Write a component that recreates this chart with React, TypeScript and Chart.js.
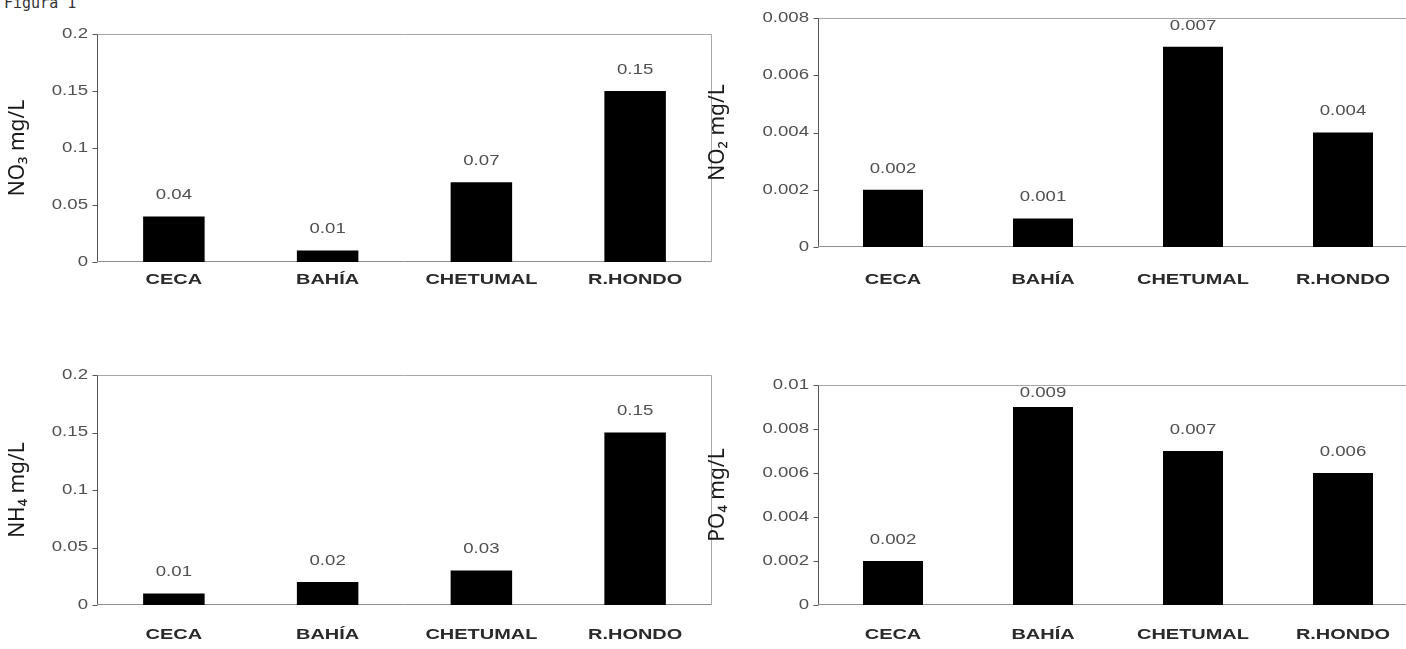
import React, { useEffect, useRef } from 'react';
import { Chart, registerables } from 'chart.js';

Chart.register(...registerables);

// ---- data ----
const categories = ['CECA', 'BAHÍA', 'CHETUMAL', 'R.HONDO'];
const no3Values = [0.04, 0.01, 0.07, 0.15];
const no2Values = [0.002, 0.001, 0.007, 0.004];
const nh4Values = [0.01, 0.02, 0.03, 0.15];
const po4Values = [0.002, 0.009, 0.007, 0.006];
const no3Ticks = ['0', '0.05', '0.1', '0.15', '0.2'];
const no2Ticks = ['0', '0.002', '0.004', '0.006', '0.008'];
const nh4Ticks = ['0', '0.05', '0.1', '0.15', '0.2'];
const po4Ticks = ['0', '0.002', '0.004', '0.006', '0.008', '0.01'];
const axisTitles = ['NO₃ mg/L', 'NO₂ mg/L', 'NH₄ mg/L', 'PO₄ mg/L'];
const figureTitle = 'Figura 1';

// ---- layout (not data) ----
type Panel = {
  values: number[];
  ticks: string[];
  title: string;
  left: number;
  top: number;
  width: number;
  height: number;
  axisW: number;
  axisH: number;
  padTop: number;
  padRight: number;
  labelGap: number;
};

const panels: Panel[] = [
  { values: no3Values, ticks: no3Ticks, title: axisTitles[0], left: 0, top: 0, width: 714, height: 300, axisW: 97, axisH: 38, padTop: 34, padRight: 2, labelGap: 18 },
  { values: no2Values, ticks: no2Ticks, title: axisTitles[1], left: 700, top: 0, width: 722, height: 300, axisW: 118, axisH: 53, padTop: 18, padRight: 4, labelGap: 33 },
  { values: nh4Values, ticks: nh4Ticks, title: axisTitles[2], left: 0, top: 340, width: 714, height: 300, axisW: 97, axisH: 35, padTop: 35, padRight: 2, labelGap: 30 },
  { values: po4Values, ticks: po4Ticks, title: axisTitles[3], left: 700, top: 340, width: 722, height: 300, axisW: 118, axisH: 35, padTop: 45, padRight: 4, labelGap: 30 },
];

const SX = 1.33; // horizontal stretch of the scanned lettering

function drawStretched(ctx: CanvasRenderingContext2D, text: string, x: number, y: number, align: CanvasTextAlign) {
  ctx.save();
  ctx.translate(x, y);
  ctx.scale(SX, 1);
  ctx.textAlign = align;
  ctx.textBaseline = 'middle';
  ctx.fillText(text, 0, 0);
  ctx.restore();
}

function makePlugin(p: Panel) {
  return {
    id: 'panelDecor',
    beforeDatasetsDraw(chart: any) {
      const ctx: CanvasRenderingContext2D = chart.ctx;
      const a = chart.chartArea;
      const yScale = chart.scales.y;
      const xScale = chart.scales.x;
      const L = Math.round(a.left) + 0.5;
      const R = Math.round(a.right) - 0.5;
      const T = Math.round(a.top) + 0.5;
      const B = Math.round(a.bottom) - 0.5;
      ctx.save();
      ctx.lineWidth = 1;
      // top and right frame
      ctx.strokeStyle = '#a8a8a8';
      ctx.beginPath();
      ctx.moveTo(L, T);
      ctx.lineTo(R, T);
      ctx.lineTo(R, B);
      ctx.stroke();
      // bottom axis
      ctx.strokeStyle = '#909090';
      ctx.beginPath();
      ctx.moveTo(L, B);
      ctx.lineTo(R, B);
      ctx.stroke();
      // left axis + ticks
      ctx.strokeStyle = '#555';
      ctx.beginPath();
      ctx.moveTo(L, T);
      ctx.lineTo(L, B);
      p.ticks.forEach((t) => {
        const y = Math.round(yScale.getPixelForValue(parseFloat(t))) + 0.5;
        ctx.moveTo(L - 5, y);
        ctx.lineTo(L, y);
      });
      ctx.stroke();
      // y tick labels
      ctx.fillStyle = '#505050';
      ctx.font = '14px "Liberation Sans", Arial, sans-serif';
      p.ticks.forEach((t) => {
        const y = yScale.getPixelForValue(parseFloat(t));
        drawStretched(ctx, t, a.left - 9, y, 'right');
      });
      // category labels
      ctx.fillStyle = '#2a2a2a';
      ctx.font = 'bold 15px "Liberation Sans", Arial, sans-serif';
      categories.forEach((c, i) => {
        const x = xScale.getPixelForValue(i);
        drawStretched(ctx, c, x, a.bottom + p.labelGap, 'center');
      });
      ctx.restore();
    },
    afterDatasetsDraw(chart: any) {
      const ctx: CanvasRenderingContext2D = chart.ctx;
      const a = chart.chartArea;
      const meta = chart.getDatasetMeta(0);
      ctx.save();
      ctx.fillStyle = '#505050';
      ctx.font = '14px "Liberation Sans", Arial, sans-serif';
      meta.data.forEach((bar: any, i: number) => {
        const y = Math.max(bar.y - 21, a.top + 8);
        drawStretched(ctx, String(p.values[i]), bar.x, y, 'center');
      });
      ctx.restore();
    },
  };
}

function PanelChart({ p }: { p: Panel }) {
  const ref = useRef<HTMLCanvasElement | null>(null);
  useEffect(() => {
    if (!ref.current) return;
    const yMax = parseFloat(p.ticks[p.ticks.length - 1]);
    const chart = new Chart(ref.current, {
      type: 'bar',
      data: {
        labels: categories,
        datasets: [
          {
            data: p.values,
            backgroundColor: '#000',
            borderWidth: 0,
            barPercentage: 0.4,
            categoryPercentage: 1,
          },
        ],
      },
      options: {
        responsive: false,
        animation: false,
        devicePixelRatio: 1,
        layout: { padding: { top: p.padTop, right: p.padRight, left: 0, bottom: 0 } },
        plugins: { legend: { display: false }, tooltip: { enabled: false } },
        scales: {
          x: {
            type: 'category',
            offset: true,
            grid: { display: false },
            border: { display: false },
            ticks: { display: false },
            afterFit: (s: any) => {
              s.height = p.axisH;
            },
          },
          y: {
            min: 0,
            max: yMax,
            grid: { display: false },
            border: { display: false },
            ticks: { display: false },
            title: {
              display: true,
              text: p.title,
              color: '#1a1a1a',
              font: { family: '"Noto Sans", "DejaVu Sans", sans-serif', size: 21 },
              padding: { top: 5, bottom: 0 },
            },
            afterFit: (s: any) => {
              s.width = p.axisW;
            },
          },
        },
      },
      plugins: [makePlugin(p)],
    } as any);
    return () => chart.destroy();
  }, [p]);
  return (
    <canvas
      ref={ref}
      width={p.width}
      height={p.height}
      style={{ position: 'absolute', left: p.left, top: p.top, width: p.width, height: p.height, display: 'block' }}
    />
  );
}

export default function App() {
  return (
    <div
      style={{
        position: 'absolute',
        left: 0,
        top: 0,
        width: 1406,
        height: 649,
        overflow: 'hidden',
        background: '#fff',
      }}
    >
      <div
        style={{
          position: 'absolute',
          left: 4,
          top: -6,
          fontFamily: '"DejaVu Sans Mono", monospace',
          fontSize: 15,
          color: '#333',
          whiteSpace: 'pre',
          lineHeight: '18px',
        }}
      >
        {figureTitle}
      </div>
      {panels.map((p, i) => (
        <PanelChart key={i} p={p} />
      ))}
    </div>
  );
}
